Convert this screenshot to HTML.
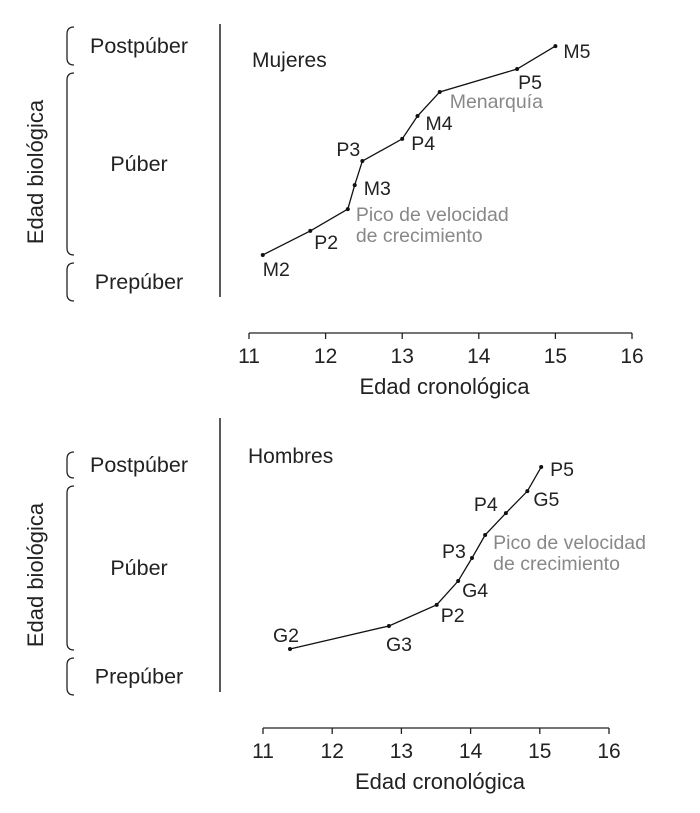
<!DOCTYPE html>
<html><head><meta charset="utf-8"><style>
body{margin:0;background:#fff}
svg{display:block;font-family:"Liberation Sans",sans-serif}
</style></head><body>
<svg id="c" width="700" height="813" viewBox="0 0 700 813"></svg>
<script>
const ticks=[11,12,13,14,15,16];
const fLabels=["M2","P2","PVC","M3","P3","P4","M4","MEN","P5","M5"];
const fAge=[11.18,11.8,12.29,12.38,12.48,13.0,13.2,13.49,14.5,15.0];
const fBio=[15.4,24.2,32.2,41,49.8,57.9,66.3,75.1,83.5,91.9];
const mLabels=["G2","G3","P2","G4","P3","PVC","P4","G5","P5"];
const mAge=[11.39,12.82,13.51,13.82,14.02,14.21,14.51,14.82,15.02];
const mBio=[15.7,24.1,31.8,40.5,48.9,57.3,65.3,73.3,82.1];

const NS="http://www.w3.org/2000/svg";
const svg=document.getElementById('c');
function mk(t,a,txt,parent){const e=document.createElementNS(NS,t);for(const k in a)e.setAttribute(k,a[k]);if(txt!==undefined)e.textContent=txt;(parent||svg).appendChild(e);return e;}

function brace(x,y1,y2,name){
  const p=mk('path',{d:`M${x+7},${y1} Q${x},${y1} ${x},${y1+7} L${x},${y2-7} Q${x},${y2} ${x+7},${y2}`,fill:'none',stroke:'#222','stroke-width':1.3});
  
  
}

function chart(cfg){
  const xs=v=>cfg.x0+(v-11)*(cfg.x1-cfg.x0)/5;
  const ys=v=>cfg.yb-(v/100)*(cfg.yb-cfg.yt);
  const g=mk('g',{});
  
  
  const yl=mk('line',{x1:220,x2:220,y1:cfg.yt,y2:cfg.yb,stroke:'#222','stroke-width':1.5},undefined,g);
  
  
  const yt=mk('text',{x:0,y:0,transform:`translate(43,${cfg.ylc}) rotate(-90)`,'text-anchor':'middle','font-size':22,fill:'#222'},'Edad biológica',g);
  
  
  cfg.stages.forEach(s=>{
    brace(67,s[1],s[2],'stage-brace');
    const t=mk('text',{x:139,y:(s[1]+s[2])/2+7,'text-anchor':'middle','font-size':21.5,fill:'#222'},s[0],g);
    
    
  });
  const xl=mk('line',{x1:xs(11),x2:xs(16),y1:cfg.ax,y2:cfg.ax,stroke:'#222','stroke-width':1.3},undefined,g);
  
  
  ticks.forEach(v=>{
    const tk=mk('line',{x1:xs(v),x2:xs(v),y1:cfg.ax,y2:cfg.ax+6,stroke:'#222','stroke-width':1.3},undefined,g);
    
    
    const tl=mk('text',{x:xs(v),y:cfg.ax+30,'text-anchor':'middle','font-size':21,fill:'#222'},String(v),g);
    
    
  });
  const xt=mk('text',{x:(xs(11)+xs(16))/2+4,y:cfg.ax+61,'text-anchor':'middle','font-size':22,fill:'#222'},'Edad cronológica',g);
  
  
  const ti=mk('text',{x:cfg.tx,y:cfg.ty,'font-size':21,fill:'#222'},cfg.title,g);
  
  
  const pts=cfg.age.map((a,i)=>xs(a)+','+ys(cfg.bio[i])).join(' ');
  const pl=mk('polyline',{points:pts,fill:'none',stroke:'#111','stroke-width':1.3},undefined,g);
  
  
  cfg.age.forEach((a,i)=>{
    const px=xs(a),py=ys(cfg.bio[i]);
    const d=mk('circle',{cx:px,cy:py,r:2,fill:'#111'},undefined,g);
    
    
    const lab=cfg.labels[i];
    const o=cfg.off[lab];
    if(lab==='PVC'){
      const t1=mk('text',{x:px+o[0],y:py+o[1],'font-size':19.5,fill:'#888'},'Pico de velocidad',g);
      
      
      const t2=mk('text',{x:px+o[0],y:py+o[1]+21,'font-size':19.5,fill:'#888'},'de crecimiento',g);
      
      
    }else if(lab==='MEN'){
      const t=mk('text',{x:px+o[0],y:py+o[1],'font-size':19.5,fill:'#888'},'Menarquía',g);
      
      
    }else{
      const t=mk('text',{x:px+o[0],y:py+o[1],'font-size':19.5,fill:'#222'},lab,g);
      
      
    }
  });
}

chart({name:'women-chart',title:'Mujeres',tx:252,ty:67,x0:249,x1:632,ax:333,yt:24,yb:297,ylc:172,
  stages:[['Postpúber',27,65],['Púber',73,255],['Prepúber',263,301]],
  age:fAge,bio:fBio,labels:fLabels,
  off:{M2:[0,21],P2:[4,18],PVC:[8,12],M3:[9,10],P3:[-26,-5],P4:[9,11],M4:[8,14],MEN:[10,16],P5:[1,20],M5:[8,12]}});
chart({name:'men-chart',title:'Hombres',tx:248,ty:463,x0:263,x1:609,ax:728,yt:418,yb:692,ylc:575,
  stages:[['Postpúber',452,478],['Púber',486,650],['Prepúber',658,695]],
  age:mAge,bio:mBio,labels:mLabels,
  off:{G2:[-17,-7],G3:[-3,25],P2:[4,17],G4:[4,16],P3:[-30,0],PVC:[8,14],P4:[-32,-2],G5:[6,15],P5:[9,9]}});
</script>
</body></html>
